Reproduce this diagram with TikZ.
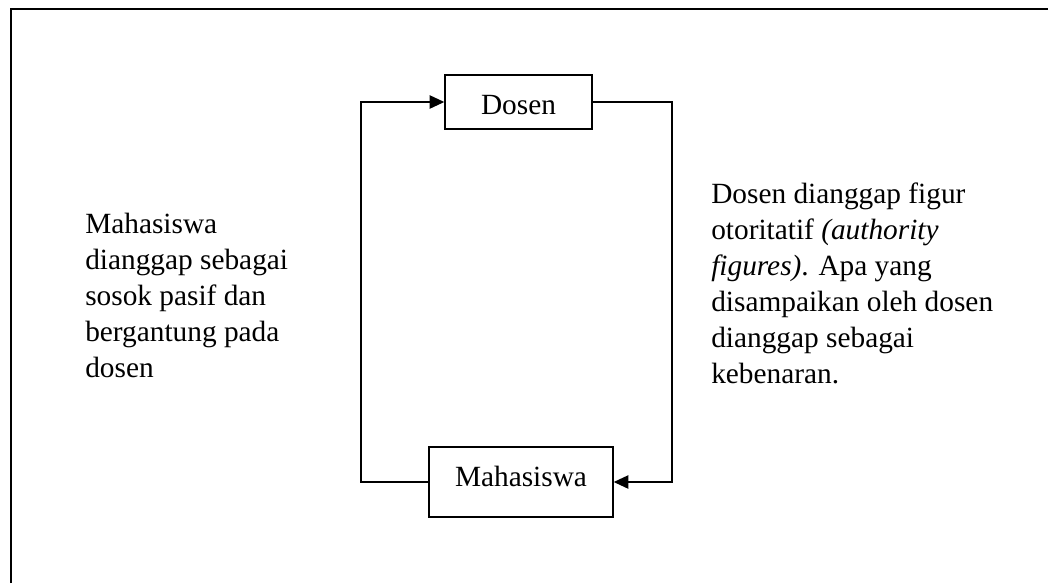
\documentclass[tikz,border=0pt]{standalone}
\usepackage{fontspec}
\setmainfont{Liberation Serif}
\usetikzlibrary{arrows.meta}
\begin{document}
\begin{tikzpicture}[x=0.75pt,y=-0.75pt,
  conn/.style={line width=1.2pt,-{Triangle[length=11pt,width=10pt]}},
  box/.style={draw,line width=1.1pt,inner xsep=0pt,inner ysep=0pt,anchor=base,
    text height=29.25pt,font=\fontsize{22}{27}\selectfont},
  note/.style={inner sep=0pt,align=left,anchor=base west,font=\fontsize{22}{27}\selectfont}]
  \useasboundingbox (0,0) rectangle (1048,583);
  % open frame: only the top and left edges fall inside the page
  \draw[line width=1.5pt] (10.5,583) -- (10.5,8.5) -- (1048,8.5);

  \node[box,minimum width=110.25pt,text depth=11.25pt] (dosen) at (518.5,114) {Dosen};
  \node[box,minimum width=138pt,text depth=23.25pt] (mhs) at (521,486) {Mahasiswa};

  \coordinate (cL) at (361,102);
  \coordinate (cR) at (672,102);

  \draw[conn] (mhs.west) -| (cL) -- (dosen.west);
  \draw[conn] (dosen.east) -- (cR) |- (mhs.east);

  % the base anchor of a multi-line note sits on its last line
  \node[note] (left) at (85,377) {Mahasiswa\\dianggap sebagai\\sosok pasif dan\\bergantung pada\\dosen};
  \node[note] (right) at (711,383) {Dosen dianggap figur\\otoritatif \textit{(authority}\\\textit{figures)}. Apa yang\\disampaikan oleh dosen\\dianggap sebagai\\kebenaran.};
\end{tikzpicture}
\end{document}
